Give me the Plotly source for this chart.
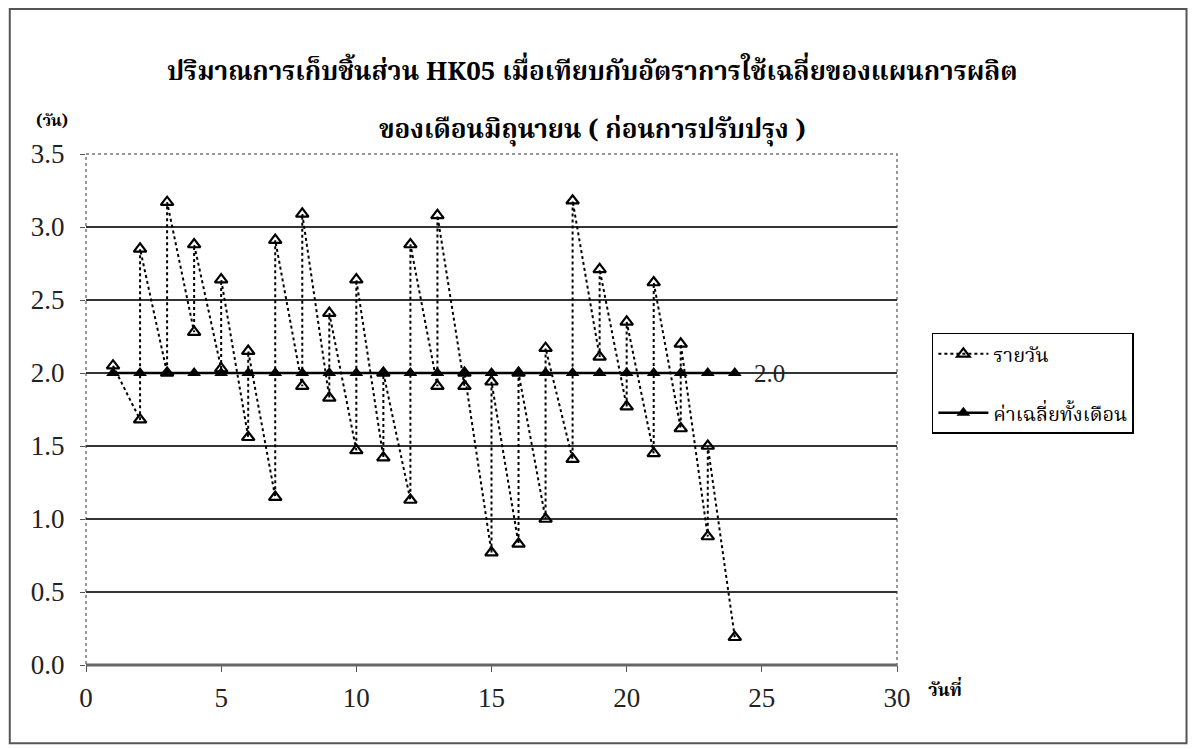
import plotly.graph_objects as go

# Day numbers in the month
days = list(range(1, 25))

# Daily stock cover (days): level after the morning receipt and level at the end of the day
open_level = [2.05, 2.85, 3.17, 2.88, 2.64, 2.15, 2.91, 3.09, 2.41, 2.64, 2.00, 2.88,
              3.08, 2.00, 1.94, 2.00, 2.17, 3.18, 2.71, 2.35, 2.62, 2.20, 1.50, None]
close_level = [None, 1.68, 2.00, 2.28, 2.03, 1.56, 1.15, 1.91, 1.83, 1.47, 1.42, 1.13,
               1.91, 1.91, 0.77, 0.83, 1.00, 1.41, 2.11, 1.77, 1.45, 1.62, 0.88, 0.19]

# Monthly average usage cover
monthly_avg = 2.0

title_lines = ["ปริมาณการเก็บชิ้นส่วน HK05 เมื่อเทียบกับอัตราการใช้เฉลี่ยของแผนการผลิต",
               "ของเดือนมิถุนายน ( ก่อนการปรับปรุง )"]
series_names = ["รายวัน", "ค่าเฉลี่ยทั้งเดือน"]
y_title = "(วัน)"
x_title = "วันที่"

# Sawtooth path: each day drops to the closing level, then jumps to the opening level
saw_x, saw_y = [], []
for d, c, o in zip(days, close_level, open_level):
    if c is not None:
        saw_x.append(d)
        saw_y.append(c)
    if o is not None:
        saw_x.append(d)
        saw_y.append(o)

thai = "Noto Serif Thai, Noto Sans Thai, Noto Sans, DejaVu Sans, sans-serif"
serif = "Liberation Serif, Times New Roman, serif"

fig = go.Figure()
fig.add_trace(go.Scatter(
    x=saw_x, y=saw_y, mode="lines+markers", name=series_names[0], legendgroup="a",
    line=dict(color="black", width=2, dash="dot"),
    marker=dict(symbol="triangle-up-open", size=11, color="black", line=dict(width=2.2, color="black")),
))
fig.add_trace(go.Scatter(
    x=days, y=[monthly_avg] * len(days), mode="lines+markers", name=series_names[1], legendgroup="b",
    line=dict(color="black", width=2.5),
    marker=dict(symbol="triangle-up", size=12, color="black"),
))

fig.add_annotation(x=days[-1], y=monthly_avg, text=f"{monthly_avg:.1f}", showarrow=False,
                   xanchor="left", xshift=17, font=dict(family=serif, size=25, color="#222"))
fig.add_annotation(xref="paper", yref="paper", x=-0.042, y=1.062, xanchor="center", yanchor="middle",
                   text=f"<b>{y_title}</b>", showarrow=False,
                   font=dict(family=thai, size=16, color="black"))
fig.add_annotation(xref="paper", yref="paper", x=1.059, y=-0.05, xanchor="center", yanchor="middle",
                   text=f"<b>{x_title}</b>", showarrow=False,
                   font=dict(family=thai, size=18, color="black"))
fig.add_annotation(xref="paper", yref="paper", x=0.624, y=1.158, xanchor="center", yanchor="middle",
                   text=f"<b>{title_lines[0]}</b>", showarrow=False,
                   font=dict(family=thai, size=26, color="black"))
fig.add_annotation(xref="paper", yref="paper", x=0.624, y=1.045, xanchor="center", yanchor="middle",
                   text=f"<b>{title_lines[1]}</b>", showarrow=False,
                   font=dict(family=thai, size=26, color="black"))

# Plot-area frame and outer chart border
fig.add_shape(type="rect", xref="paper", yref="paper", x0=0, y0=0, x1=1, y1=1,
              line=dict(color="#777", width=1.5, dash="dot"), layer="below")
fig.add_shape(type="line", xref="paper", yref="paper", x0=0, y0=0, x1=1, y1=0,
              line=dict(color="#666", width=3))
fig.add_shape(type="rect", xref="paper", yref="paper", x0=-0.094, y0=-0.153, x1=1.357, y1=1.284,
              line=dict(color="#555", width=2))

fig.update_layout(
    width=1195, height=749,
    margin=dict(l=86, r=298, t=154, b=84),
    paper_bgcolor="white", plot_bgcolor="white",
    showlegend=True,
    legend=dict(x=1.043, y=0.65, xanchor="left", yanchor="top",
                bordercolor="black", borderwidth=1.5, bgcolor="white",
                font=dict(family=thai, size=20, color="black"),
                traceorder="grouped", tracegroupgap=30, itemwidth=50),
)
fig.update_xaxes(range=[0, 30], tickvals=[0, 5, 10, 15, 20, 25, 30], showgrid=False,
                 zeroline=False, ticks="outside", ticklen=6, tickcolor="#555",
                 tickfont=dict(family=serif, size=27, color="#222"), ticklabelstandoff=3)
fig.update_yaxes(range=[0, 3.5], tickvals=[0, 0.5, 1, 1.5, 2, 2.5, 3, 3.5], tickformat=".1f",
                 showgrid=True, gridcolor="#333", gridwidth=1.5, zeroline=False,
                 ticks="outside", ticklen=5, tickcolor="#555", ticklabelstandoff=10,
                 tickfont=dict(family=serif, size=27, color="#222"))

fig.write_html("out.html")
